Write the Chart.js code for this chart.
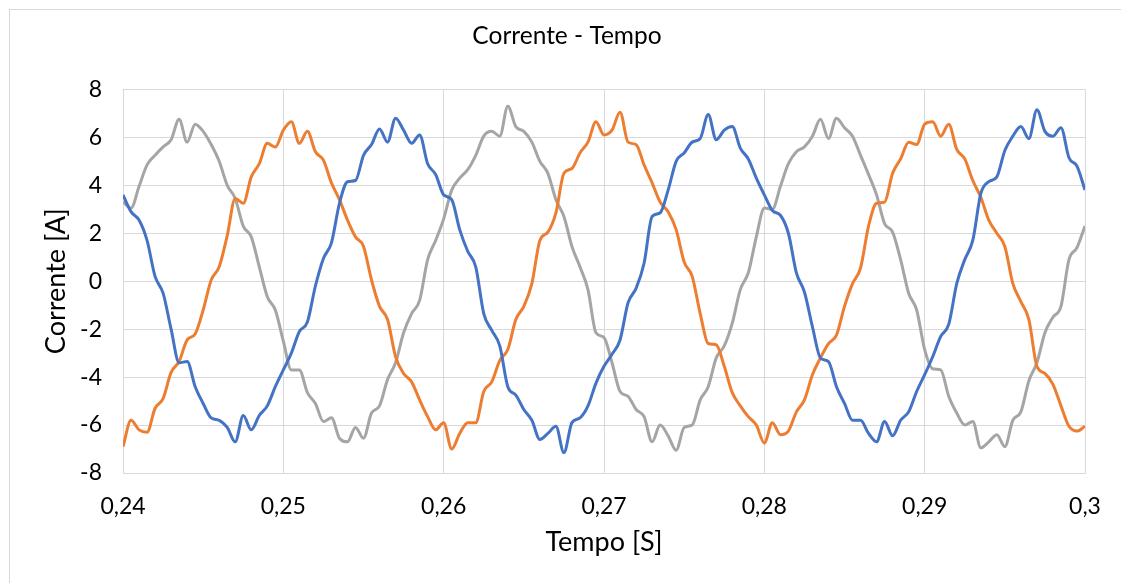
<!DOCTYPE html>
<html>
<head>
<meta charset="utf-8">
<title>Corrente - Tempo</title>
<script src="https://cdn.jsdelivr.net/npm/chart.js@4.4.1/dist/chart.umd.min.js"></script>
<style>
	html, body { margin: 0; padding: 0; background: #fff; overflow: hidden; }
	#moldura { position: absolute; left: 9px; top: 9px; width: 1130px; height: 600px; border: 1px solid #d9d9d9; }
	#wrap { position: absolute; left: 0; top: 0; width: 1121px; height: 583px; }
</style>
</head>
<body>
<div id="moldura"></div>
<div id="wrap"><canvas id="mycanvas" width="1121" height="583"></canvas></div>
<script>
// amostras a cada 0,0005 s, de 0,24 a 0,3 s
var t0 = 0.24;
var passo = 0.0005;

// fase A (azul)
var ia = [3.6, 2.9, 2.55, 1.7, 0.2, -0.5, -2.0, -3.4, -3.35, -4.4,
	-5.1, -5.7, -5.8, -6.1, -6.7, -5.6, -6.2, -5.6, -5.2, -4.4,
	-3.7, -3.0, -2.1, -1.7, -0.2, 0.95, 1.6, 3.25, 4.15, 4.2,
	5.25, 5.7, 6.35, 5.8, 6.8, 6.3, 5.75, 6.1, 4.9, 4.45,
	3.6, 3.4, 2.15, 1.25, 0.6, -1.35, -2.05, -2.7, -4.4, -4.75,
	-5.35, -5.8, -6.6, -6.35, -6.05, -7.15, -5.9, -5.7, -5.2, -4.25,
	-3.55, -3.05, -2.45, -0.9, -0.3, 0.75, 2.7, 2.85, 3.8, 5.0,
	5.35, 5.8, 5.95, 6.95, 5.9, 6.3, 6.45, 5.55, 5.1, 4.3,
	3.6, 2.95, 2.75, 2.0, 0.35, -0.45, -1.9, -3.2, -3.35, -4.4,
	-5.1, -5.8, -5.8, -6.35, -6.7, -5.85, -6.45, -5.8, -5.45, -4.6,
	-3.9, -3.15, -2.3, -1.8, -0.1, 0.9, 1.7, 3.65, 4.15, 4.35,
	5.45, 6.05, 6.45, 5.95, 7.15, 6.25, 6.05, 6.4, 5.15, 4.8,
	3.8];

// fase B (laranja)
var ib = [-6.9, -5.8, -6.2, -6.3, -5.3, -4.9, -3.8, -3.35, -2.45, -2.2,
	-1.2, 0.05, 0.6, 1.9, 3.45, 3.25, 4.35, 4.9, 5.75, 5.6,
	6.3, 6.65, 5.75, 6.25, 5.4, 5.05, 4.1, 3.4, 2.55, 1.85,
	1.45, 0.05, -1.05, -1.6, -3.15, -3.85, -4.2, -4.95, -5.65, -6.2,
	-5.9, -7.0, -6.35, -5.9, -5.9, -4.6, -4.2, -3.3, -2.85, -1.6,
	-1.05, -0.1, 1.7, 2.05, 2.85, 4.5, 4.7, 5.35, 5.8, 6.65,
	6.1, 6.3, 7.05, 5.8, 5.7, 4.85, 4.1, 3.3, 2.9, 2.15,
	0.8, 0.2, -1.35, -2.6, -2.65, -3.55, -4.65, -5.2, -5.65, -6.0,
	-6.75, -5.9, -6.4, -6.25, -5.45, -4.95, -3.9, -3.2, -2.6, -2.25,
	-1.05, -0.1, 0.55, 2.3, 3.25, 3.3, 4.5, 5.1, 5.8, 5.7,
	6.55, 6.65, 6.05, 6.55, 5.5, 5.1, 4.2, 3.5, 2.55, 2.0,
	1.45, -0.1, -0.85, -1.6, -3.55, -3.85, -4.3, -5.2, -6.05, -6.25,
	-6.05];

// fase C (cinza)
var ic = [3.3, 3.05, 3.95, 4.85, 5.25, 5.6, 5.9, 6.75, 5.8, 6.55,
	6.25, 5.7, 5.0, 4.0, 3.45, 2.3, 1.85, 0.6, -0.65, -1.2,
	-2.5, -3.7, -3.7, -4.65, -5.1, -5.85, -5.7, -6.55, -6.7, -6.1,
	-6.55, -5.5, -5.2, -4.1, -3.4, -2.15, -1.35, -0.8, 0.9, 1.7,
	2.6, 3.8, 4.3, 4.65, 5.25, 6.05, 6.25, 6.05, 7.3, 6.45,
	6.25, 5.8, 5.0, 4.5, 3.4, 2.7, 1.45, 0.6, -0.35, -2.15,
	-2.35, -3.4, -4.6, -4.8, -5.35, -5.65, -6.7, -6.0, -6.45, -7.05,
	-6.1, -6.0, -4.95, -4.4, -3.2, -2.7, -1.75, -0.35, 0.35, 1.85,
	3.05, 3.0, 3.95, 4.9, 5.4, 5.6, 6.05, 6.75, 5.95, 6.8,
	6.4, 6.05, 5.25, 4.45, 3.6, 2.4, 2.05, 0.9, -0.5, -1.2,
	-2.85, -3.65, -3.7, -4.8, -5.5, -6.0, -5.85, -6.95, -6.7, -6.4,
	-6.9, -5.8, -5.45, -4.15, -3.4, -2.15, -1.5, -1.05, 0.9, 1.4,
	2.3];

var ticksX = [0.24, 0.25, 0.26, 0.27, 0.28, 0.29, 0.3];

var tempo = [];
for (var i = 0; i < ia.length; i++) {
	tempo.push(+(t0 + i * passo).toFixed(4));
}

function pontos(valores) {
	var out = [];
	for (var i in valores) {
		out.push({ x: tempo[i], y: valores[i] });
	}
	return out;
}

var fonte = "Lato, 'Open Sans', sans-serif";
var cinzaGrade = '#d9d9d9';
var corTexto = '#000000';

var serie = function(dados, cor) {
	return {
		data: pontos(dados),
		borderColor: cor,
		backgroundColor: cor,
		borderWidth: 3,
		pointRadius: 0,
		cubicInterpolationMode: 'monotone',
		fill: false
	};
};

var ctx = document.getElementById('mycanvas');

var grafico = new Chart(ctx, {
	type: 'line',
	data: {
		datasets: [
			serie(ia, '#4472C4'),
			serie(ib, '#ED7D31'),
			serie(ic, '#A5A5A5')
		]
	},
	options: {
		responsive: false,
		animation: false,
		layout: { padding: { left: 13, right: 0, top: 0, bottom: 0 } },
		plugins: {
			legend: { display: false },
			tooltip: { enabled: false },
			title: {
				display: true,
				text: 'Corrente - Tempo',
				color: corTexto,
				font: { family: fonte, size: 24.5, weight: 'normal' },
				padding: { top: 21, bottom: 39 }
			}
		},
		scales: {
			x: {
				type: 'linear',
				min: 0.24,
				max: 0.3,
				afterBuildTicks: function(scale) {
					scale.ticks = ticksX.map(function(v) { return { value: v }; });
				},
				afterFit: function(scale) { scale.height = 110; },
				grid: { color: cinzaGrade, lineWidth: 1, drawTicks: false },
				border: { color: cinzaGrade },
				ticks: {
					color: corTexto,
					padding: 20,
					maxRotation: 0,
					font: { family: fonte, size: 23 },
					callback: function(v) { return String(Math.round(v * 100) / 100).replace('.', ','); }
				},
				title: {
					display: true,
					text: 'Tempo [S]',
					color: corTexto,
					font: { family: fonte, size: 27 },
					padding: { top: 0, bottom: 25 }
				}
			},
			y: {
				min: -8,
				max: 8,
				afterFit: function(scale) { scale.width = 110; },
				grid: { color: cinzaGrade, lineWidth: 1, drawTicks: false },
				border: { color: cinzaGrade },
				ticks: {
					color: corTexto,
					padding: 21,
					stepSize: 2,
					font: { family: fonte, size: 23 },
					callback: function(v) { return String(v); }
				},
				title: {
					display: true,
					text: 'Corrente [A]',
					color: corTexto,
					font: { family: fonte, size: 27 },
					padding: { top: 27, bottom: 0 }
				}
			},
			// eixo vazio so para reservar a margem direita
			folga: {
				position: 'right',
				display: true,
				afterFit: function(scale) { scale.width = 36; },
				grid: { display: false },
				border: { display: false },
				ticks: { display: false }
			}
		}
	}
});
</script>
</body>
</html>
